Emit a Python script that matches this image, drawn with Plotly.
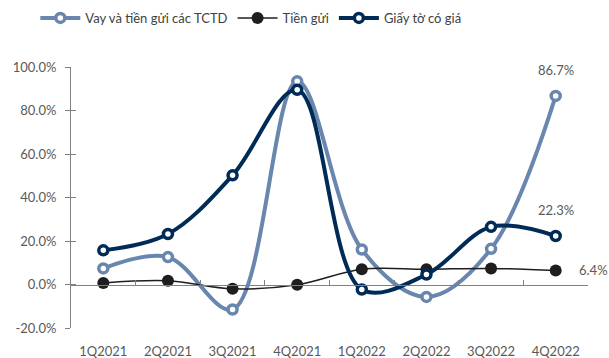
import plotly.graph_objects as go

quarters = ["1Q2021", "2Q2021", "3Q2021", "4Q2021", "1Q2022", "2Q2022", "3Q2022", "4Q2022"]
vay_tctd = [7.4, 12.6, -11.5, 93.4, 16.1, -5.7, 16.4, 86.7]
tien_gui = [0.7, 1.7, -2.0, -0.1, 7.0, 7.0, 7.4, 6.4]
giay_to = [15.7, 23.2, 50.2, 89.5, -2.3, 4.6, 26.5, 22.3]
y_ticks = [-20, 0, 20, 40, 60, 80, 100]

LIGHT = "#6886ae"
NAVY = "#002b56"
BLACK = "#1e1e1e"
TEXT = "#595959"
AXIS = "#808080"
FONT = "Lato"

fig = go.Figure()

fig.add_trace(go.Scatter(
    x=quarters, y=vay_tctd, name="Vay và tiền gửi các TCTD",
    mode="lines+markers",
    line=dict(color=LIGHT, width=4, shape="spline", smoothing=1.0),
    marker=dict(symbol="circle", size=9, color="white", line=dict(color=LIGHT, width=3.5)),
))
fig.add_trace(go.Scatter(
    x=quarters, y=tien_gui, name="Tiền gửi",
    mode="lines+markers",
    line=dict(color=BLACK, width=1.5, shape="spline", smoothing=1.0),
    marker=dict(symbol="circle", size=12, color=BLACK),
))
fig.add_trace(go.Scatter(
    x=quarters, y=giay_to, name="Giấy tờ có giá",
    mode="lines+markers",
    line=dict(color=NAVY, width=4, shape="spline", smoothing=1.0),
    marker=dict(symbol="circle", size=9, color="white", line=dict(color=NAVY, width=3.5)),
))

# value labels on the last quarter
last = quarters[-1]
fig.add_annotation(x=last, y=vay_tctd[-1], text=f"{vay_tctd[-1]:.1f}%", showarrow=False,
                   yshift=26, font=dict(family=FONT, size=13, color=TEXT))
fig.add_annotation(x=last, y=giay_to[-1], text=f"{giay_to[-1]:.1f}%", showarrow=False,
                   yshift=26, font=dict(family=FONT, size=13, color=TEXT))
fig.add_annotation(x=last, y=tien_gui[-1], text=f"{tien_gui[-1]:.1f}%", showarrow=False,
                   xanchor="left", xshift=21, yshift=1, font=dict(family=FONT, size=13, color=TEXT))

y_range = [-20, 100]
zero_pos = (0 - y_range[0]) / (y_range[1] - y_range[0])

fig.update_layout(
    width=609, height=358,
    margin=dict(l=71, r=21, t=67, b=30, autoexpand=False),
    paper_bgcolor="white", plot_bgcolor="white",
    font=dict(family=FONT, size=13, color=TEXT),
    showlegend=True,
    legend=dict(orientation="h", xref="container", x=0.058, xanchor="left",
                yref="container", y=1 - 3 / 358, yanchor="top",
                font=dict(family=FONT, size=13, color="#404040"),
                itemwidth=40, traceorder="normal", bgcolor="rgba(0,0,0,0)"),
    xaxis=dict(
        type="category", range=[-0.5, 7.5], showline=False, showgrid=False,
        ticks="", zeroline=False, tickfont=dict(family=FONT, size=13, color=TEXT),
        ticklabelstandoff=14, automargin=False,
    ),
    # category-boundary tick marks along the zero line
    xaxis2=dict(
        overlaying="x", anchor="free", position=zero_pos, range=[-0.5, 7.5],
        tickmode="array", tickvals=[i + 0.5 for i in range(8)],
        ticks="inside", ticklen=5, tickcolor=AXIS, tickwidth=1,
        showline=True, linecolor=AXIS, linewidth=1, showticklabels=False,
        showgrid=False, zeroline=False, automargin=False,
    ),
    yaxis=dict(
        range=y_range, tickmode="array", tickvals=y_ticks,
        ticktext=[f"{v:.1f}%" for v in y_ticks],
        showline=True, linecolor=AXIS, linewidth=1,
        ticks="outside", ticklen=5, tickcolor=AXIS,
        showgrid=False, zeroline=False,
        tickfont=dict(family=FONT, size=13, color=TEXT),
        ticklabelstandoff=6, automargin=False,
    ),
    yaxis2=dict(
        overlaying="y", anchor="x", side="left", range=y_range,
        tickmode="array", tickvals=y_ticks, ticks="inside", ticklen=5,
        tickcolor=AXIS, showticklabels=False, showgrid=False, zeroline=False,
        showline=False, automargin=False,
    ),
)

# invisible trace to activate the helper axes
fig.add_trace(go.Scatter(x=[0], y=[0], xaxis="x2", yaxis="y2", mode="markers",
                         marker=dict(opacity=0), showlegend=False, hoverinfo="skip"))

fig.write_html("out.html")
